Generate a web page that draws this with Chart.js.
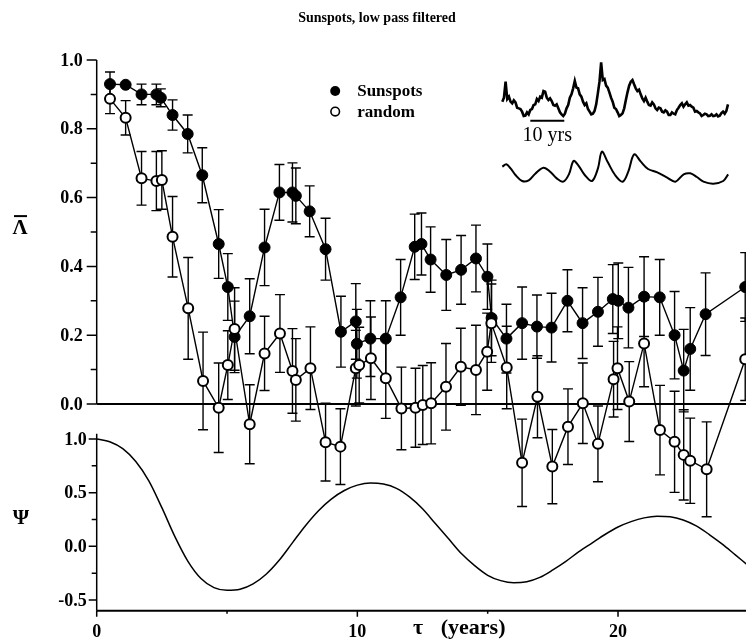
<!DOCTYPE html>
<html>
<head>
<meta charset="utf-8">
<script src="https://cdn.jsdelivr.net/npm/chart.js@4.4.1/dist/chart.umd.min.js"></script>
<style>
  html, body { margin: 0; padding: 0; background: #fff; }
  #wrap { width: 753px; height: 644px; position: relative; }
</style>
</head>
<body>
<div id="wrap"><canvas id="chart" width="753" height="644"></canvas></div>
<script>
// Lag tau (years) with mean Lambda estimates and their error half-widths
const sunTau    = [0.51, 1.11, 1.72, 2.29, 2.46, 2.91, 3.49, 4.05, 4.68, 5.03, 5.29, 5.87, 6.44, 7.01, 7.51, 7.64, 8.17, 8.78, 9.37, 9.94, 9.98, 10.50, 11.09, 11.66, 12.20, 12.46, 12.81, 13.41, 13.98, 14.55, 14.99, 15.15, 15.72, 16.32, 16.89, 17.45, 18.06, 18.64, 19.23, 19.80, 20.01, 20.40, 21.00, 21.60, 22.17, 22.52, 22.77, 23.36, 24.88];
const sunLambda = [0.93, 0.928, 0.90, 0.90, 0.89, 0.84, 0.785, 0.665, 0.465, 0.34, 0.195, 0.255, 0.455, 0.615, 0.615, 0.605, 0.56, 0.45, 0.21, 0.24, 0.175, 0.19, 0.19, 0.31, 0.457, 0.465, 0.42, 0.375, 0.39, 0.423, 0.37, 0.25, 0.19, 0.235, 0.225, 0.222, 0.30, 0.235, 0.268, 0.305, 0.30, 0.28, 0.312, 0.31, 0.20, 0.097, 0.16, 0.261, 0.34];
const sunErr    = [0.035, 0, 0.03, 0.03, 0.026, 0.044, 0.055, 0.08, 0.10, 0.097, 0.104, 0.109, 0.111, 0.081, 0.086, 0.081, 0.074, 0.09, 0.103, 0.11, 0.10, 0.11, 0.11, 0.11, 0.095, 0.09, 0.095, 0.103, 0.10, 0.097, 0.095, 0.11, 0.10, 0.105, 0.092, 0.10, 0.09, 0.103, 0.10, 0.10, 0.11, 0.117, 0.116, 0.11, 0.127, 0.12, 0.12, 0.12, 0.10];

const rndTau    = [0.51, 1.11, 1.72, 2.29, 2.50, 2.91, 3.51, 4.08, 4.68, 5.03, 5.29, 5.87, 6.44, 7.03, 7.51, 7.64, 8.20, 8.78, 9.35, 9.94, 10.07, 10.52, 11.09, 11.69, 12.23, 12.51, 12.83, 13.40, 13.97, 14.55, 14.98, 15.14, 15.73, 16.32, 16.91, 17.48, 18.08, 18.65, 19.23, 19.83, 19.98, 20.43, 21.00, 21.61, 22.17, 22.52, 22.77, 23.40, 24.88];
const rndLambda = [0.887, 0.832, 0.656, 0.648, 0.651, 0.486, 0.278, 0.067, -0.011, 0.113, 0.218, -0.059, 0.147, 0.205, 0.096, 0.07, 0.104, -0.111, -0.124, 0.104, 0.113, 0.133, 0.075, -0.013, -0.011, -0.003, 0.002, 0.05, 0.108, 0.099, 0.152, 0.235, 0.106, -0.171, 0.021, -0.182, -0.066, 0.002, -0.116, 0.072, 0.104, 0.007, 0.176, -0.076, -0.11, -0.148, -0.165, -0.19, 0.13];
const rndErr    = [0.043, 0.05, 0.078, 0.086, 0.085, 0.117, 0.148, 0.142, 0.13, 0.10, 0.12, 0.115, 0.108, 0.113, 0.123, 0.12, 0.12, 0.113, 0.11, 0.11, 0.11, 0.12, 0.117, 0.12, 0.115, 0.115, 0.118, 0.126, 0.112, 0.13, 0.112, 0.114, 0.12, 0.127, 0.119, 0.108, 0.11, 0.117, 0.11, 0.11, 0.12, 0.116, 0.126, 0.13, 0.147, 0.131, 0.124, 0.138, 0.12];

// Psi(tau)
const psiTau    = [0, 0.5, 1, 1.5, 2, 2.5, 3, 3.5, 4, 4.5, 5, 5.5, 6, 6.5, 7, 7.5, 8, 8.5, 9, 9.5, 10, 10.5, 11, 11.5, 12, 12.5, 13, 13.5, 14, 14.5, 15, 15.5, 16, 16.5, 17, 17.5, 18, 18.5, 19, 19.5, 20, 20.5, 21, 21.5, 22, 22.5, 23, 23.5, 24, 24.5, 25];
const psiValues = [1.0, 0.975, 0.91, 0.79, 0.61, 0.36, 0.09, -0.14, -0.30, -0.385, -0.41, -0.40, -0.35, -0.26, -0.13, 0.03, 0.19, 0.33, 0.44, 0.52, 0.57, 0.59, 0.58, 0.54, 0.46, 0.35, 0.21, 0.07, -0.07, -0.18, -0.27, -0.32, -0.34, -0.33, -0.29, -0.22, -0.14, -0.05, 0.03, 0.11, 0.18, 0.23, 0.265, 0.28, 0.275, 0.245, 0.19, 0.11, 0.02, -0.08, -0.18];

// Inset: sunspot record (arbitrary units, sampled every rawStep years) and its low-pass version
const rawStep = 0.485;
const rawSunspots = [50,62,110,58,65,50,45,54,48,32, 30,28,20,7,8,18,12,25,28,40, 42,58,52,65,62,82,80,62,55,60, 52,40,38,42,30,18,12,7,14,30, 40,62,72,90,112,92,90,72,65,50, 40,45,28,20,12,14,22,42,75,110, 168,115,118,98,92,78,62,50,32,28, 18,7,10,15,30,55,78,98,110,115, 102,90,82,86,72,60,52,62,50,40, 38,48,42,30,25,32,30,20,18,24, 20,10,10,18,14,12,25,32,40,45, 35,42,48,38,40,35,32,20,22,18, 15,7,10,14,12,7,8,12,7,8, 12,6,8,16,20,14,22,42];
const filtYears  = [0, 1.17, 2.43, 3.88, 5.83, 7.77, 9.71, 12.14, 14.08, 16.02, 17.96, 19.61, 20.97, 22.33, 24.27, 26.41, 28.16, 29.32, 31.07, 33.2, 35.44, 37.09, 38.83, 40.78, 42.91, 45.63, 48.54, 50.97, 53.4, 55.34, 57.28, 59.22, 62.14, 65.05, 66.5];
const filtValues = [55, 62, 50, 30, 12, 14, 34, 52, 40, 20, 10, 32, 72, 60, 30, 12, 50, 100, 68, 30, 10, 40, 92, 70, 48, 38, 22, 10, 32, 35, 24, 10, 4, 12, 32];
const scaleBarYears = [8.25, 18.25];

// Axis ticks
const lambdaTicks = [0, 0.2, 0.4, 0.6, 0.8, 1.0];
const psiTicks = [-0.5, 0, 0.5, 1.0];
const tauTicks = [0, 10, 20];

const serif = "'Liberation Serif', 'Times New Roman', serif";
const pts = (xs, ys) => xs.map((x, i) => ({ x, y: ys[i] }));

function drawErrorBars(ctx, xs, ys, es, xScale, yScale) {
  ctx.lineWidth = 1.4;
  ctx.beginPath();
  xs.forEach((t, i) => {
    if (!es[i]) return;
    const px = xScale.getPixelForValue(t);
    const y1 = yScale.getPixelForValue(ys[i] + es[i]);
    const y2 = yScale.getPixelForValue(ys[i] - es[i]);
    ctx.moveTo(px, y1); ctx.lineTo(px, y2);
    ctx.moveTo(px - 5, y1); ctx.lineTo(px + 5, y1);
    ctx.moveTo(px - 5, y2); ctx.lineTo(px + 5, y2);
  });
  ctx.stroke();
}

const frame = {
  id: 'frame',
  beforeDatasetsDraw(chart) {
    const { ctx, chartArea: a } = chart;
    const { x, yTop, yBot, xi, yRaw } = chart.scales;
    ctx.save();
    ctx.strokeStyle = '#000';
    ctx.fillStyle = '#000';
    const x0 = x.getPixelForValue(0);

    // upper panel: left axis, ticks, labels
    ctx.lineWidth = 1.5;
    ctx.beginPath();
    ctx.moveTo(x0, yTop.getPixelForValue(1.0));
    ctx.lineTo(x0, yTop.getPixelForValue(0));
    for (let k = 0; k <= 10; k++) {
      const py = yTop.getPixelForValue(k / 10);
      ctx.moveTo(x0, py);
      ctx.lineTo(x0 - (k % 2 === 0 ? 10 : 6), py);
    }
    ctx.stroke();
    ctx.font = `bold 18px ${serif}`;
    ctx.textAlign = 'right';
    ctx.textBaseline = 'middle';
    lambdaTicks.forEach(v => ctx.fillText(v.toFixed(1), x0 - 14, yTop.getPixelForValue(v) + 1));

    // zero line of the upper panel
    ctx.lineWidth = 2;
    ctx.beginPath();
    ctx.moveTo(x0, yTop.getPixelForValue(0));
    ctx.lineTo(a.right, yTop.getPixelForValue(0));
    ctx.stroke();

    // lower panel: left axis, ticks, labels
    ctx.lineWidth = 1.5;
    ctx.beginPath();
    ctx.moveTo(x0, yBot.getPixelForValue(1.05));
    ctx.lineTo(x0, a.bottom);
    for (let k = -2; k <= 4; k++) {
      const py = yBot.getPixelForValue(k / 4);
      ctx.moveTo(x0, py);
      ctx.lineTo(x0 - (k % 2 === 0 ? 8 : 5), py);
    }
    ctx.stroke();
    psiTicks.forEach(v => ctx.fillText(v.toFixed(1), x0 - 10, yBot.getPixelForValue(v) + 1));

    // tau axis
    ctx.lineWidth = 2;
    ctx.beginPath();
    ctx.moveTo(x0, a.bottom);
    ctx.lineTo(a.right, a.bottom);
    ctx.stroke();
    ctx.lineWidth = 1.5;
    ctx.beginPath();
    [0, 5, 10, 15, 20].forEach(v => {
      const px = x.getPixelForValue(v);
      ctx.moveTo(px, a.bottom);
      ctx.lineTo(px, a.bottom + (v % 10 === 0 ? 6 : 3));
    });
    ctx.stroke();
    ctx.textAlign = 'center';
    tauTicks.forEach(v => ctx.fillText(String(v), x.getPixelForValue(v), a.bottom + 22));

    // axis titles
    ctx.font = `bold 22px ${serif}`;
    ctx.textAlign = 'center';
    ctx.fillText('\u03C4', x.getPixelForValue(12.33), a.bottom + 18);
    ctx.textAlign = 'left';
    ctx.fillText('(years)', x.getPixelForValue(13.2), a.bottom + 18);
    ctx.textAlign = 'center';
    ctx.font = `bold 21px ${serif}`;
    const lamY = yTop.getPixelForValue(0.52) + 3;
    ctx.fillText('\u039B', 20, lamY);
    ctx.lineWidth = 2;
    ctx.beginPath();
    ctx.moveTo(14, lamY - 12);
    ctx.lineTo(27, lamY - 12);
    ctx.stroke();
    ctx.fillText('\u03A8', 21, yBot.getPixelForValue(0.26));

    // title
    ctx.font = `bold 14px ${serif}`;
    ctx.fillText('Sunspots, low pass filtered', 377, 18);

    // legend
    const lx = x.getPixelForValue(9.15);
    const ly1 = yTop.getPixelForValue(0.91), ly2 = yTop.getPixelForValue(0.85);
    ctx.beginPath(); ctx.arc(lx, ly1, 5, 0, Math.PI * 2); ctx.fill();
    ctx.lineWidth = 1.6;
    ctx.beginPath(); ctx.arc(lx, ly2, 4.3, 0, Math.PI * 2); ctx.stroke();
    ctx.font = `bold 17px ${serif}`;
    ctx.textAlign = 'left';
    ctx.fillText('Sunspots', lx + 22, ly1 + 1);
    ctx.fillText('random', lx + 22, ly2 + 1);

    // inset scale label
    ctx.font = `20px ${serif}`;
    ctx.textAlign = 'center';
    const midYear = (scaleBarYears[0] + scaleBarYears[1]) / 2;
    ctx.fillText('10 yrs', xi.getPixelForValue(midYear), yRaw.getPixelForValue(-7) + 15);

    // error bars
    ctx.save();
    ctx.beginPath();
    ctx.rect(a.left - 10, a.top - 10, a.right - a.left + 10, a.bottom - a.top + 10);
    ctx.clip();
    drawErrorBars(ctx, sunTau, sunLambda, sunErr, x, yTop);
    drawErrorBars(ctx, rndTau, rndLambda, rndErr, x, yTop);
    ctx.restore();

    ctx.restore();
  }
};

const ctx = document.getElementById('chart').getContext('2d');
new Chart(ctx, {
  type: 'line',
  data: {
    datasets: [
      {
        label: 'Psi',
        data: pts(psiTau, psiValues),
        xAxisID: 'x', yAxisID: 'yBot',
        borderColor: '#000', borderWidth: 1.5,
        pointRadius: 0, tension: 0.4, cubicInterpolationMode: 'monotone'
      },
      {
        label: 'random',
        data: pts(rndTau, rndLambda),
        xAxisID: 'x', yAxisID: 'yTop',
        borderColor: '#000', borderWidth: 1.4,
        pointRadius: 5, pointBorderWidth: 2,
        pointBackgroundColor: '#fff', pointBorderColor: '#000'
      },
      {
        label: 'Sunspots',
        data: pts(sunTau, sunLambda),
        xAxisID: 'x', yAxisID: 'yTop',
        borderColor: '#000', borderWidth: 1.4,
        pointRadius: 5.5, pointBorderWidth: 1,
        pointBackgroundColor: '#000', pointBorderColor: '#000'
      },
      {
        label: 'sunspot record',
        data: rawSunspots.map((v, i) => ({ x: i * rawStep, y: v })),
        xAxisID: 'xi', yAxisID: 'yRaw',
        borderColor: '#000', borderWidth: 2.6, borderJoinStyle: 'miter',
        pointRadius: 0, tension: 0
      },
      {
        label: 'filtered record',
        data: pts(filtYears, filtValues),
        xAxisID: 'xi', yAxisID: 'yFilt',
        borderColor: '#000', borderWidth: 2,
        pointRadius: 0, tension: 0.35
      },
      {
        label: 'scale bar',
        data: scaleBarYears.map(v => ({ x: v, y: -7 })),
        xAxisID: 'xi', yAxisID: 'yRaw',
        borderColor: '#000', borderWidth: 2, pointRadius: 0
      }
    ]
  },
  options: {
    responsive: false,
    animation: false,
    devicePixelRatio: 1,
    layout: { padding: { left: 96.7, right: 0, top: 60, bottom: 33.3 } },
    plugins: { legend: { display: false }, title: { display: false }, tooltip: { enabled: false } },
    scales: {
      x:     { type: 'linear', display: false, min: 0, max: 24.91 },
      yTop:  { type: 'linear', display: false, min: -0.601, max: 1.0 },
      yBot:  { type: 'linear', display: false, min: -0.6, max: 4.532 },
      xi:    { type: 'linear', display: false, min: -119.42, max: 71.75 },
      yRaw:  { type: 'linear', display: false, min: -1477, max: 175 },
      yFilt: { type: 'linear', display: false, min: -1277, max: 375 }
    }
  },
  plugins: [frame]
});
</script>
</body>
</html>
